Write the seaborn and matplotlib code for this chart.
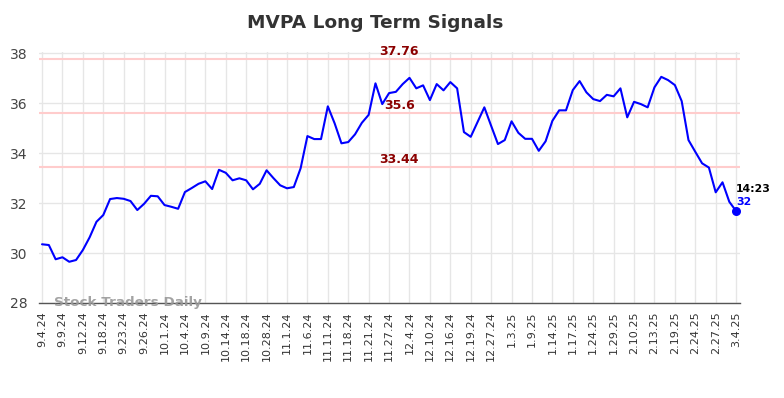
import numpy as np
import pandas as pd
import matplotlib
matplotlib.use('Agg')
import matplotlib.pyplot as plt
import seaborn as sns

# closing prices, one per plotted point
precios = [30.35, 30.32, 29.75, 29.83, 29.65, 29.72, 30.12, 30.63, 31.25, 31.52,
           32.16, 32.20, 32.17, 32.08, 31.72, 31.97, 32.29, 32.27, 31.92, 31.85,
           31.77, 32.44, 32.60, 32.77, 32.87, 32.56, 33.33, 33.21, 32.91, 32.99,
           32.91, 32.55, 32.77, 33.31, 33.00, 32.71, 32.59, 32.64, 33.39, 34.68,
           34.56, 34.56, 35.87, 35.19, 34.39, 34.44, 34.75, 35.21, 35.53, 36.79,
           35.96, 36.40, 36.45, 36.76, 37.01, 36.59, 36.71, 36.12, 36.76, 36.51,
           36.84, 36.59, 34.84, 34.65, 35.24, 35.83, 35.09, 34.36, 34.52, 35.27,
           34.81, 34.57, 34.57, 34.09, 34.47, 35.29, 35.71, 35.71, 36.52, 36.88,
           36.43, 36.16, 36.08, 36.33, 36.27, 36.59, 35.43, 36.05, 35.96, 35.83,
           36.63, 37.05, 36.92, 36.72, 36.08, 34.52, 34.05, 33.59, 33.42, 32.43,
           32.83, 32.05, 31.68]

etiquetas = ['9.4.24', '9.9.24', '9.12.24', '9.18.24', '9.23.24', '9.26.24',
             '10.1.24', '10.4.24', '10.9.24', '10.14.24', '10.18.24', '10.28.24',
             '11.1.24', '11.6.24', '11.11.24', '11.18.24', '11.21.24', '11.27.24',
             '12.4.24', '12.10.24', '12.16.24', '12.19.24', '12.27.24', '1.3.25',
             '1.9.25', '1.14.25', '1.17.25', '1.24.25', '1.29.25', '2.10.25',
             '2.13.25', '2.19.25', '2.24.25', '2.27.25', '3.4.25']

niveles = [37.76, 35.6, 33.44]
niveles_txt = ['37.76', '35.6', '33.44']
hora = '14:23'
ultimo_txt = '32'

df = pd.DataFrame({'idx': np.arange(len(precios)), 'precio': precios})

sns.set_style('white')
plt.rcParams['font.family'] = ['DejaVu Sans']

fig = plt.figure(figsize=(7.84, 3.98), dpi=100)
ax = fig.add_axes([0.0497, 0.2387, 0.894, 0.631])

# lineas de soporte / resistencia
for nivel, txt in zip(niveles, niveles_txt):
    ax.axhline(nivel, color='#ffcccc', linewidth=1.5, zorder=1)
    ax.text(52.5, nivel + 0.04, txt, color='#8b0000', fontsize=9,
            fontweight='bold', ha='center', va='bottom', zorder=3)

sns.lineplot(data=df, x='idx', y='precio', color='#0000ff', linewidth=1.5,
             ax=ax, zorder=2)
ax.scatter([df['idx'].iloc[-1]], [df['precio'].iloc[-1]], color='#0000ff',
           s=30, zorder=4)

ax.text(df['idx'].iloc[-1], df['precio'].iloc[-1] + 0.68, hora, fontsize=7.8,
        fontweight='bold', color='black', ha='left', va='bottom')
ax.text(df['idx'].iloc[-1], df['precio'].iloc[-1] + 0.15, ultimo_txt, fontsize=7.8,
        fontweight='bold', color='#0000ff', ha='left', va='bottom')

ax.set_xticks(np.arange(0, len(precios), 3))
ax.set_xticklabels(etiquetas, rotation=90, fontsize=8, color='#333333')
ax.set_yticks([28, 30, 32, 34, 36, 38])
ax.tick_params(axis='y', labelsize=10, colors='#444444', length=0, pad=8)
ax.tick_params(axis='x', length=0, pad=6)
ax.set_xlim(-0.45, len(precios) - 0.45)
ax.set_ylim(28, 38.05)
ax.set_xlabel('')
ax.set_ylabel('')

ax.grid(True, color='#e6e6e6', linewidth=1)
ax.set_axisbelow(True)
for lado in ['top', 'right', 'left']:
    ax.spines[lado].set_visible(False)
ax.spines['bottom'].set_color('#555555')
ax.spines['bottom'].set_linewidth(1)

ax.text(1.8, 28.0, 'Stock Traders Daily', fontsize=9.7, fontweight='bold',
        color='#999999', alpha=0.9, ha='left', va='center', zorder=5)

fig.suptitle('MVPA Long Term Signals', fontsize=13.3, fontweight='bold',
             color='#333333', x=0.479, y=0.965)

fig.savefig('out.png', dpi=100)
